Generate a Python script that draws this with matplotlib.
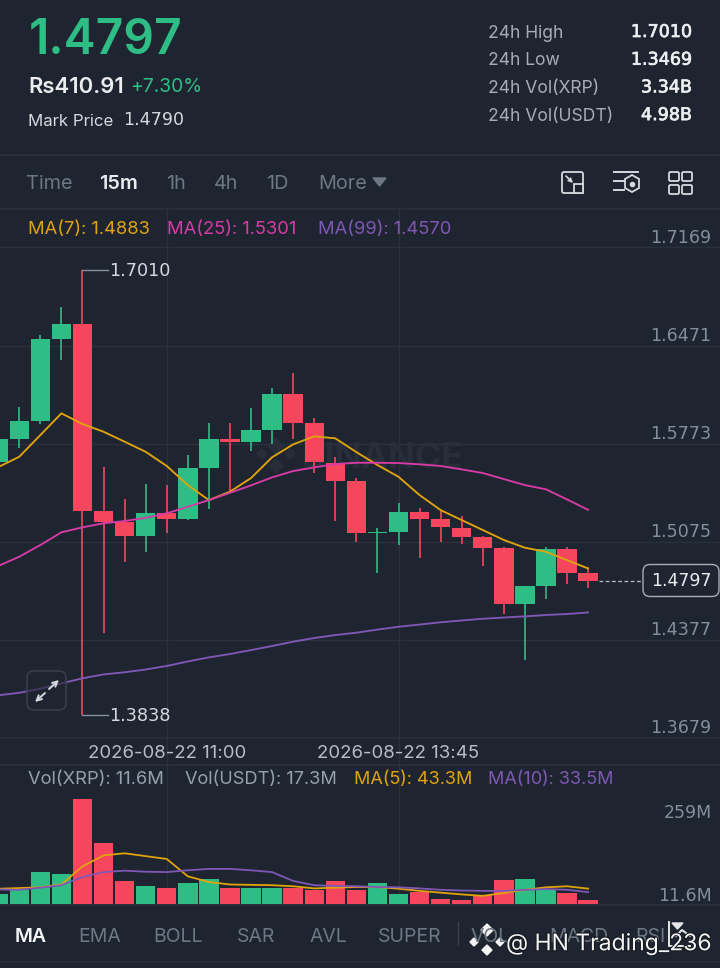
from matplotlib import pyplot as plt
from matplotlib.patches import FancyBboxPatch, Rectangle, Polygon
import matplotlib.patheffects as pe
import numpy as np

plt.rcParams['font.family'] = ['Inter', 'DejaVu Sans']

# candles, oldest first
opens = [1.5641, 1.5803, 1.5931, 1.6519, 1.6624, 1.5292, 1.5216, 1.5114, 1.5276, 1.5233,
         1.5598, 1.5807, 1.5783, 1.5869, 1.6127, 1.5921, 1.5632, 1.5506, 1.5133, 1.5145,
         1.5283, 1.5235, 1.5173, 1.5107, 1.5027, 1.4630, 1.4756, 1.5019, 1.4849]
closes = [1.5803, 1.5931, 1.6519, 1.6624, 1.5292, 1.5216, 1.5114, 1.5276, 1.5233, 1.5598,
          1.5807, 1.5783, 1.5869, 1.6127, 1.5921, 1.5639, 1.5508, 1.5133, 1.5145, 1.5283,
          1.5237, 1.5176, 1.5109, 1.5027, 1.4630, 1.4756, 1.5019, 1.4849, 1.4797]
highs = [1.5826, 1.6031, 1.6546, 1.6743, 1.7010, 1.5605, 1.5375, 1.5484, 1.5477, 1.5691,
         1.5921, 1.5917, 1.6023, 1.6166, 1.6277, 1.5952, 1.5675, 1.5525, 1.5169, 1.5349,
         1.5311, 1.5299, 1.5259, 1.5114, 1.5036, 1.4756, 1.5038, 1.5038, 1.4896]
lows = [1.5627, 1.5741, 1.5912, 1.6368, 1.3838, 1.4421, 1.4927, 1.5002, 1.5138, 1.5226,
        1.5304, 1.5437, 1.5717, 1.5769, 1.5807, 1.5561, 1.5219, 1.5071, 1.4853, 1.5048,
        1.4958, 1.5074, 1.5059, 1.4901, 1.4559, 1.4231, 1.4663, 1.4775, 1.4746]
ma7 = [1.5605, 1.5679, 1.5833, 1.5988, 1.5912, 1.5857, 1.5786, 1.5714, 1.5613, 1.5477,
       1.5370, 1.5430, 1.5527, 1.5675, 1.5767, 1.5824, 1.5810, 1.5712, 1.5620, 1.5536,
       1.5406, 1.5299, 1.5228, 1.5157, 1.5086, 1.5031, 1.5002, 1.4943, 1.4883]
ma25 = [1.4901, 1.4967, 1.5050, 1.5141, 1.5176, 1.5205, 1.5221, 1.5244, 1.5276, 1.5323,
        1.5370, 1.5422, 1.5475, 1.5532, 1.5577, 1.5603, 1.5627, 1.5636, 1.5636, 1.5634,
        1.5625, 1.5613, 1.5589, 1.5563, 1.5520, 1.5477, 1.5447, 1.5375, 1.5301]
ma99 = [1.3980, 1.3998, 1.4027, 1.4065, 1.4101, 1.4129, 1.4144, 1.4164, 1.4189, 1.4221,
        1.4250, 1.4274, 1.4302, 1.4331, 1.4362, 1.4388, 1.4409, 1.4426, 1.4448, 1.4468,
        1.4484, 1.4500, 1.4513, 1.4525, 1.4534, 1.4542, 1.4552, 1.4559, 1.4570]
volumes = [29, 40, 89, 85, 295, 172, 66, 50, 46, 58, 71, 44, 44, 44, 44, 39, 64, 39, 60, 28,
           33, 14, 11, 24, 69, 71, 40, 31, 11.6]
vol_ma5 = [43, 45, 47, 55, 106, 137, 143, 135, 127, 78, 62, 55, 54, 53, 50, 44, 46, 48, 48, 43,
           37, 32, 27, 23, 31, 40, 47, 50, 43.3]
vol_ma10 = [41, 40, 46, 53, 76, 90, 94, 91, 90, 95, 99, 99, 95, 90, 65, 53, 51, 50, 48, 47,
            44, 40, 38, 37, 37, 40, 42, 40, 33.5]
price_ticks = [1.7169, 1.6471, 1.5773, 1.5075, 1.4377, 1.3679]
time_idx = [8, 19]
time_labels = ['2026-08-22 11:00', '2026-08-22 13:45']
stats = [('24h High', '1.7010'), ('24h Low', '1.3469'), ('24h Vol(XRP)', '3.34B'), ('24h Vol(USDT)', '4.98B')]
intervals = ['Time', '15m', '1h', '4h', '1D', 'More']
indicators = ['MA', 'EMA', 'BOLL', 'SAR', 'AVL', 'SUPER', 'VOL', 'MACD', 'RSI']

BG = '#1f2530'
GRID = '#2b313c'
GREEN = '#2ebd85'
RED = '#f6465d'
YELLOW = '#e0a30e'
PINK = '#d63ba6'
PURPLE = '#7f57b5'
GREY = '#848e9c'
LIGHT = '#eaecef'
NUM = 'DejaVu Sans'  # the wide digits of the app font

W, H = 720, 968
fig = plt.figure(figsize=(W / 100, H / 100), dpi=100, facecolor=BG)


def px_axes(left, top, right, bottom):
    return fig.add_axes([left / W, 1 - bottom / H, (right - left) / W, (bottom - top) / H])


xlim = (0.085, 34.26)
up = np.array(closes) >= np.array(opens)
colors = [GREEN if u else RED for u in up]
idx = np.arange(len(opens))

# ====== price panel
ax = px_axes(0, 210, W, 738)
ax.set_facecolor('none')
ax.set_xlim(xlim)
ax.set_ylim(1.3676, 1.7436)
ax.axis('off')
for t in price_ticks:
    ax.axhline(t, color=GRID, lw=1, zorder=1)
ax.vlines(idx, lows, highs, colors=colors, lw=1.2, zorder=3)
ax.bar(idx, np.abs(np.array(closes) - np.array(opens)), bottom=np.minimum(opens, closes),
       width=0.92, color=colors, zorder=3)
ax.plot(idx, ma7, color=YELLOW, lw=1.35, zorder=4)
ax.plot(idx, ma25, color=PINK, lw=1.35, zorder=4)
ax.plot(idx, ma99, color=PURPLE, lw=1.35, zorder=4)
for t in price_ticks:
    ax.annotate('%.4f' % t, (1, t), xycoords=('axes fraction', 'data'), xytext=(-6, 7),
                textcoords='offset points', ha='right', va='center', fontsize=12.6,
                color=GREY, family=NUM)
# high and low markers
for v, lab in [(max(highs), '1.7010'), (min(lows), '1.3838')]:
    ax.plot([4, 5.2], [v, v], color=GREY, lw=1, zorder=4)
    ax.annotate(lab, (5.2, v), xytext=(1, -0.5), textcoords='offset points', va='center',
                fontsize=12.7, color='#d5d8dc', family=NUM)
# last price
ax.plot([28.5, 30.5], [closes[-1], closes[-1]], color='#b7bdc6', lw=0.9, ls=(0, (3, 2)), zorder=4)
ax.annotate('%.4f' % closes[-1], (32.43, closes[-1]), ha='center', va='center', fontsize=12.5,
            color=LIGHT, zorder=6, family=NUM)

# ====== volume panel
vax = px_axes(0, 770, W, 904)
vax.set_facecolor('none')
vax.set_xlim(xlim)
vax.set_ylim(0, 134 * 2.82)
vax.axis('off')
vax.bar(idx, volumes, width=0.92, color=colors, zorder=3)
vax.plot(idx, vol_ma5, color=YELLOW, lw=1.3, zorder=4)
vax.plot(idx, vol_ma10, color=PURPLE, lw=1.3, zorder=4)
vax.annotate('259M', (1, 259), xycoords=('axes fraction', 'data'), xytext=(-6, -0.5),
             textcoords='offset points', ha='right', va='center', fontsize=12.5, color=GREY, family=NUM)
vax.annotate('11.6M', (1, 11.6), xycoords=('axes fraction', 'data'), xytext=(-6, 3),
             textcoords='offset points', ha='right', va='center', fontsize=12.5, color=GREY, family=NUM)

# ====== everything around the charts, in pixels
ui = fig.add_axes([0, 0, 1, 1], zorder=-1)
ui.set_xlim(0, W)
ui.set_ylim(H, 0)
ui.axis('off')
top = fig.add_axes([0, 0, 1, 1], zorder=10)
top.set_xlim(0, W)
top.set_ylim(H, 0)
top.axis('off')
top.patch.set_alpha(0)

for y in [155, 209, 738, 765, 905, 962]:
    ui.plot([0, W], [y, y], color=GRID, lw=1.2)
for i in time_idx:
    xp = (i - xlim[0]) / (xlim[1] - xlim[0]) * W
    ui.plot([xp, xp], [209, 905], color=GRID, lw=1)
for i, lab in zip(time_idx, time_labels):
    xp = (i - xlim[0]) / (xlim[1] - xlim[0]) * W
    ui.text(xp, 754, lab, ha='center', va='center', fontsize=13.4, color='#b7bdc6')

# faint watermark
ui.text(383, 458, 'BINANCE', ha='center', va='center', fontsize=25.5, fontweight='bold', color='#282e39')
for cx, cy, s in [(276, 446, 8), (262, 454, 5), (290, 454, 5), (276, 466, 7)]:
    ui.add_patch(Polygon([(cx - s, cy), (cx, cy - s), (cx + s, cy), (cx, cy + s)], color='#282e39'))

top.text(29, 41, '1.4797', va='center', fontsize=34.5, fontweight='semibold', color=GREEN)
top.text(28, 87, 'Rs410.91', va='center', fontsize=15.9, fontweight='semibold', color=LIGHT)
top.text(130, 87, '+7.30%', va='center', fontsize=13.9, color=GREEN)
top.text(28, 121, 'Mark Price', va='center', fontsize=12.1, color='#d5d8dc')
top.text(123, 120, '1.4790', va='center', fontsize=12.6, color='#d5d8dc', family=NUM)
for k, (name, val) in enumerate(stats):
    y = 33 + k * 27.7
    top.text(488, y, name, va='center', fontsize=12.6, color='#a6adb8')
    top.text(692, y - 1, val, va='center', ha='right', fontsize=12.6, color='#eceef1', family=NUM,
             path_effects=[pe.withStroke(linewidth=0.5, foreground='#eceef1')])

for lab, x in zip(intervals, [26, 99, 166, 214, 266, 318]):
    active = lab == '15m'
    top.text(x, 184, lab, va='center', fontsize=14.3, color=LIGHT if active else '#6f7784',
             fontweight='semibold' if active else 'normal')
top.add_patch(Polygon([(373, 178), (386, 178), (379.5, 186)], color='#6f7784'))

# toolbar icons
ic = '#d5d8dc'
top.add_patch(FancyBboxPatch((562, 172), 21, 21, boxstyle='round,pad=0,rounding_size=2', fill=False, ec=ic, lw=1.3))
top.add_patch(Rectangle((574, 184), 9, 9, fc=BG, ec=ic, lw=1.3))
top.annotate('', xy=(573, 183), xytext=(566, 176),
             arrowprops=dict(arrowstyle='->', color=ic, lw=1.2, mutation_scale=6, shrinkA=0, shrinkB=0))
top.plot([614, 638], [172, 172], color=ic, lw=1.4)
top.plot([614, 624], [181, 181], color=ic, lw=1.4)
top.plot([614, 624], [190, 190], color=ic, lw=1.4)
top.add_patch(Polygon([(632, 175), (639, 179), (639, 188), (632, 192), (625, 188), (625, 179)], fill=False, ec=ic, lw=1.3))
top.plot([632], [183.5], 'o', ms=3, color=ic)
for x in [669, 682]:
    for y in [172, 185]:
        top.add_patch(FancyBboxPatch((x, y), 10, 9, boxstyle='round,pad=0,rounding_size=1.5', fill=False, ec=ic, lw=1.3))

top.text(28, 229, 'MA(7): 1.4883', va='center', fontsize=13.2, color=YELLOW)
top.text(167, 229, 'MA(25): 1.5301', va='center', fontsize=13.2, color=PINK)
top.text(318, 229, 'MA(99): 1.4570', va='center', fontsize=13.2, color=PURPLE)
top.text(28, 780, 'Vol(XRP): 11.6M', va='center', fontsize=13.2, color='#98a0ad')
top.text(185, 780, 'Vol(USDT): 17.3M', va='center', fontsize=13.1, color='#98a0ad')
top.text(354, 780, 'MA(5): 43.3M', va='center', fontsize=13, color=YELLOW)
top.text(488, 780, 'MA(10): 33.5M', va='center', fontsize=13, color=PURPLE)

# last price box and expand button
top.add_patch(FancyBboxPatch((643, 564.5), 76, 32, boxstyle='round,pad=0,rounding_size=7', fill=False, ec='#a6adb8', lw=1))
top.add_patch(FancyBboxPatch((27, 671), 39, 39, boxstyle='round,pad=0,rounding_size=7', fc='#1f253099', ec='#3a404b', lw=1.1))
top.annotate('', xy=(59, 680), xytext=(49, 689),
             arrowprops=dict(arrowstyle='->', color=ic, lw=1.4, mutation_scale=9, shrinkA=0, shrinkB=0))
top.annotate('', xy=(35, 702), xytext=(45, 693),
             arrowprops=dict(arrowstyle='->', color=ic, lw=1.4, mutation_scale=9, shrinkA=0, shrinkB=0))

for lab, x in zip(indicators, [31, 100, 178, 256, 328, 410, 490, 579, 650]):
    active = lab == 'MA'
    top.text(x, 937, lab, ha='center', va='center', fontsize=14, color='#f5f5f5' if active else '#6f7784',
             fontweight='semibold' if active else 'normal')
top.plot([458, 458], [922, 944], color='#3a404b', lw=1)

# scroll arrow and footer watermark
top.plot([669, 669, 690], [922, 946, 946], color='#e8e8e8', lw=1.4)
top.plot([676, 682, 690], [936, 930, 936], color='#e8e8e8', lw=1.4)
top.add_patch(Polygon([(672, 923), (683, 923), (677.5, 929)], color='#e8e8e8'))
for cx, cy, s in [(487, 930, 6), (474, 942, 4), (500, 942, 4), (487, 950, 5)]:
    top.add_patch(Polygon([(cx - s, cy), (cx, cy - s), (cx + s, cy), (cx, cy + s)], color='#f4f4f4'))
top.text(506, 944, '@ HN Trading_236', va='center', fontsize=16.5, color='#f4f4f4',
         path_effects=[pe.withStroke(linewidth=1.5, foreground='#14181f')])

fig.savefig('out.png', dpi=100, facecolor=BG)
